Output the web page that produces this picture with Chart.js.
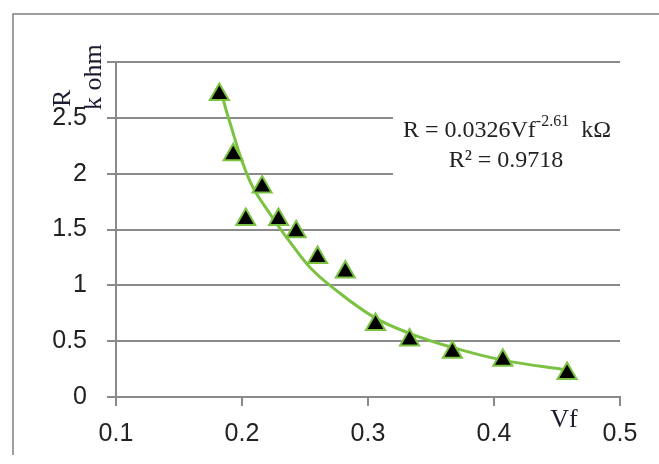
<!DOCTYPE html>
<html>
<head>
<meta charset="utf-8">
<script src="https://cdn.jsdelivr.net/npm/chart.js@4/dist/chart.umd.min.js"></script>
<style>
  html, body { margin: 0; padding: 0; background: #fff; }
  #wrap { width: 659px; height: 464px; }
</style>
</head>
<body>
<div id="wrap"><canvas id="grafR"></canvas></div>
<script>
// medidas (Vf, R em k ohm)
let vf = [0.182, 0.193, 0.216, 0.203, 0.229, 0.243, 0.260, 0.282, 0.306, 0.333, 0.367, 0.407, 0.458];
let resist = [2.71, 2.17, 1.88, 1.59, 1.59, 1.48, 1.25, 1.12, 0.65, 0.51, 0.40, 0.33, 0.21];

// linha de tendencia
let fitVf = [0.182, 0.189, 0.206, 0.224, 0.238, 0.254, 0.272, 0.304, 0.333, 0.365, 0.407, 0.459];
let fitR = [2.80, 2.51, 1.94, 1.61, 1.39, 1.16, 0.98, 0.72, 0.57, 0.45, 0.33, 0.24];

let eqLinha1 = 'R = 0.0326Vf';
let eqExpoente = '-2.61';
let eqUnidade = 'kΩ';
let eqLinha2 = 'R² = 0.9718';

let cinza = '#8a8a8a';
let verde = '#7cc242';

let pontos = vf.map(function (v, i) { return { x: v, y: resist[i] }; });
let curva = fitVf.map(function (v, i) { return { x: v, y: fitR[i] }; });

let extras = {
    id: 'extras',
    afterDraw: function (chart) {
        let ctx = chart.ctx;
        ctx.save();
        // moldura
        ctx.strokeStyle = '#7f7f7f';
        ctx.lineWidth = 1.5;
        ctx.beginPath();
        ctx.moveTo(13, 455);
        ctx.lineTo(13, 14);
        ctx.lineTo(659, 14);
        ctx.stroke();

        // caixa da equacao
        ctx.fillStyle = '#fff';
        ctx.fillRect(393, 102, 232, 80);
        ctx.fillStyle = '#222';
        ctx.textBaseline = 'alphabetic';
        ctx.font = '24px "Liberation Serif"';
        let w1 = ctx.measureText(eqLinha1).width;
        ctx.font = '16px "Liberation Serif"';
        let w2 = ctx.measureText(eqExpoente).width;
        ctx.font = '24px "Liberation Serif"';
        let w3 = ctx.measureText('  ' + eqUnidade).width;
        let x0 = 507 - (w1 + w2 + w3) / 2;
        ctx.textAlign = 'left';
        ctx.fillText(eqLinha1, x0, 137);
        ctx.font = '16px "Liberation Serif"';
        ctx.fillText(eqExpoente, x0 + w1, 126);
        ctx.font = '24px "Liberation Serif"';
        ctx.fillText('  ' + eqUnidade, x0 + w1 + w2, 137);
        ctx.textAlign = 'center';
        ctx.fillText(eqLinha2, 506, 167);

        // titulo eixo x
        ctx.fillStyle = '#1c1c30';
        ctx.font = '26px "Liberation Serif"';
        ctx.fillText('Vf', 564, 427);

        // titulo eixo y
        ctx.save();
        ctx.translate(70, 107);
        ctx.rotate(-Math.PI / 2);
        ctx.textAlign = 'left';
        ctx.fillText('R', 0, 0);
        ctx.restore();
        ctx.save();
        ctx.translate(101, 110);
        ctx.rotate(-Math.PI / 2);
        ctx.textAlign = 'left';
        ctx.fillText('k ohm', 0, 0);
        ctx.restore();
        ctx.restore();
    }
};

let grafR = document.getElementById('grafR').getContext('2d');
let chart = new Chart(grafR, {
    type: 'scatter',
    data: {
        datasets: [{
            label: 'R',
            data: pontos,
            pointStyle: 'triangle',
            pointRadius: 11,
            backgroundColor: '#000',
            borderColor: verde,
            borderWidth: 2,
            order: 1
        }, {
            label: 'tendencia',
            data: curva,
            type: 'line',
            showLine: true,
            borderColor: verde,
            borderWidth: 3,
            pointRadius: 0,
            fill: false,
            tension: 0.4,
            order: 2
        }]
    },
    options: {
        responsive: true,
        maintainAspectRatio: false,
        animation: false,
        layout: { padding: { left: 0, top: 62, right: 39, bottom: 0 } },
        plugins: {
            legend: { display: false },
            tooltip: { enabled: false }
        },
        scales: {
            x: {
                type: 'linear',
                min: 0.1,
                max: 0.5,
                afterFit: function (s) { s.height = 67; },
                ticks: {
                    stepSize: 0.1,
                    padding: 13,
                    color: '#222',
                    font: { family: '"Liberation Sans"', size: 25 },
                    callback: function (v) { return Math.round(v * 10) / 10; }
                },
                grid: { drawOnChartArea: false, drawTicks: true, tickLength: 9, color: cinza, lineWidth: 2 },
                border: { display: true, color: cinza, width: 2 }
            },
            y: {
                min: 0,
                max: 3,
                afterFit: function (s) { s.width = 116; },
                ticks: {
                    stepSize: 0.5,
                    padding: 20,
                    color: '#222',
                    font: { family: '"Liberation Sans"', size: 25 },
                    callback: function (v) { return v >= 3 ? '' : v; }
                },
                grid: { drawOnChartArea: true, drawTicks: true, tickLength: 9, color: cinza, lineWidth: 2 },
                border: { display: true, color: cinza, width: 2 }
            }
        }
    },
    plugins: [extras]
});
</script>
</body>
</html>
